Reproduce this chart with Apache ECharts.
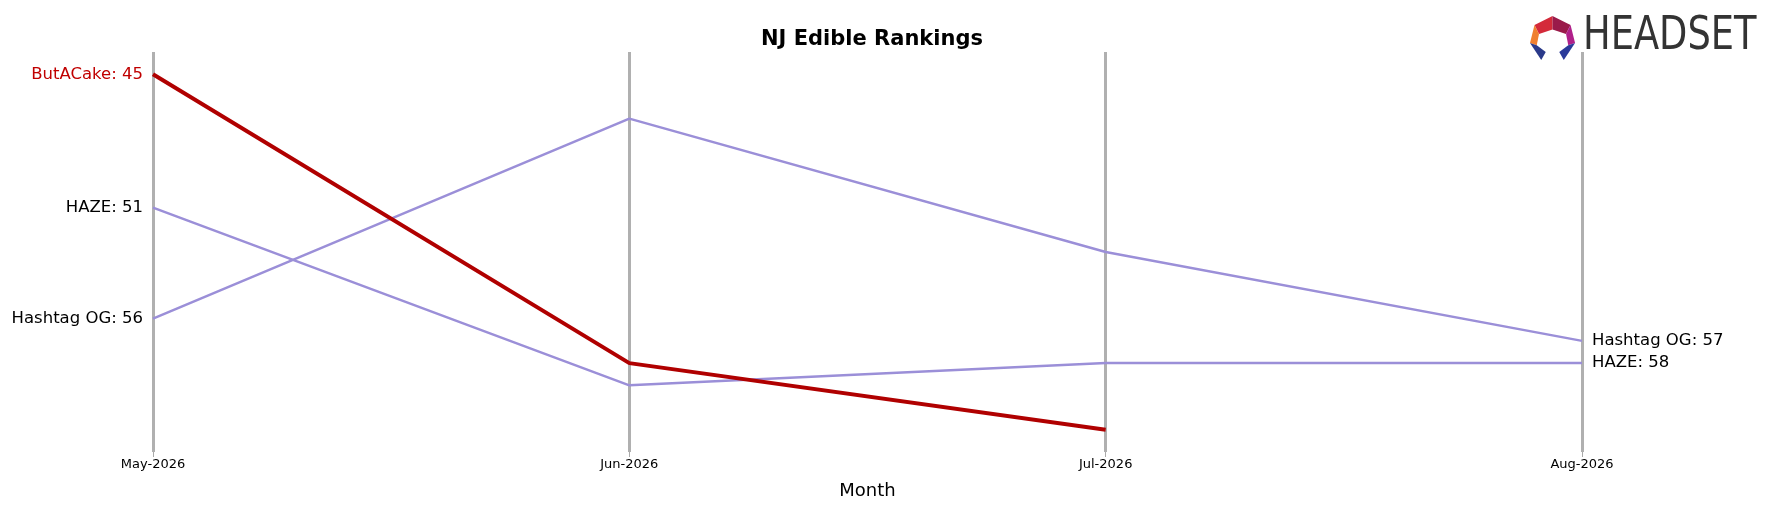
<!DOCTYPE html>
<html>
<head>
<meta charset="utf-8">
<script src="https://cdn.jsdelivr.net/npm/echarts@6/dist/echarts.min.js"></script>
<style>html,body{margin:0;padding:0;background:#fff}#chart{width:1766px;height:506px}</style>
</head>
<body>
<div id="chart"></div>
<script>
// Données du graphique
const months = ['May-2026', 'Jun-2026', 'Jul-2026', 'Aug-2026'];
const butACake = [45, 58, 61, null];
const hashtagOG = [56, 47, 53, 57];
const haze = [51, 59, 58, 58];

const chart = echarts.init(document.getElementById('chart'));

// Ajoute les étiquettes de début / fin sur les points
function withLabels(name, values, color) {
  let last = values.length - 1;
  while (values[last] == null) last--;
  return values.map((v, i) => {
    if (i === 0) {
      return { value: v, label: { show: true, position: 'left', distance: 10, formatter: name + ': ' + v, color: color, fontSize: 16.5 } };
    }
    if (i === 3 && i === last) {
      return { value: v, label: { show: true, position: 'right', distance: 10, formatter: name + ': ' + v, color: '#000', fontSize: 16.5 } };
    }
    return v;
  });
}

const option = {
  animation: false,
  title: {
    text: 'NJ Edible Rankings', left: 867, top: 24, textAlign: 'center',
    textStyle: { fontFamily: 'DejaVu Sans', fontSize: 21, fontWeight: 'bold', color: '#000' }
  },
  graphic: [
    { type: 'text', x: 1583, y: 14, scaleX: 0.8,
      style: { text: 'HEADSET', font: '46px "DejaVu Sans"', fill: '#333' } },
    // logo simplifié
    { type: 'group', x: 1530 - 1358 * 1.126, y: 16 - 14 * 1.126, scaleX: 1.126, scaleY: 1.126, children: [
      { type: 'polygon', shape: { points: [[1362, 22], [1378, 14], [1378, 26], [1366, 30]] }, style: { fill: '#d42a3a' } },
      { type: 'polygon', shape: { points: [[1378, 14], [1394, 22], [1390, 30], [1378, 26]] }, style: { fill: '#9a1a4a' } },
      { type: 'polygon', shape: { points: [[1362, 22], [1366, 30], [1364, 40], [1358, 38]] }, style: { fill: '#f08030' } },
      { type: 'polygon', shape: { points: [[1394, 22], [1398, 38], [1392, 40], [1390, 30]] }, style: { fill: '#b0208a' } },
      { type: 'polygon', shape: { points: [[1358, 38], [1364, 40], [1372, 46], [1368, 53]] }, style: { fill: '#2a3a8a' } },
      { type: 'polygon', shape: { points: [[1398, 38], [1388, 53], [1384, 46], [1392, 40]] }, style: { fill: '#2a3a9a' } }
    ] }
  ],
  textStyle: { fontFamily: 'DejaVu Sans' },
  grid: { left: 153, right: 184, top: 52, bottom: 54 },
  xAxis: {
    type: 'category', data: months, boundaryGap: false,
    name: 'Month', nameLocation: 'middle', nameGap: 30,
    nameTextStyle: { fontSize: 18, color: '#000' },
    axisLine: { show: false }, axisTick: { show: true, lineStyle: { color: '#aaa' } },
    axisLabel: { fontSize: 13, color: '#000', margin: 6 },
    splitLine: { show: true, lineStyle: { color: '#b0b0b0', width: 3 } }
  },
  yAxis: {
    type: 'value', inverse: true, min: 44, max: 62,
    axisLine: { show: false }, axisTick: { show: false }, axisLabel: { show: false },
    splitLine: { show: false }
  },
  series: [
    { name: 'Hashtag OG', type: 'line', data: withLabels('Hashtag OG', hashtagOG, '#000'),
      symbol: 'circle', symbolSize: 0, lineStyle: { color: '#9b8fd8', width: 2.5 } },
    { name: 'HAZE', type: 'line', data: withLabels('HAZE', haze, '#000'),
      symbol: 'circle', symbolSize: 0, lineStyle: { color: '#9b8fd8', width: 2.5 } },
    { name: 'ButACake', type: 'line', data: withLabels('ButACake', butACake, '#c00000'),
      symbol: 'circle', symbolSize: 0, lineStyle: { color: '#b00000', width: 4 } }
  ]
};
chart.setOption(option);
</script>
</body>
</html>
